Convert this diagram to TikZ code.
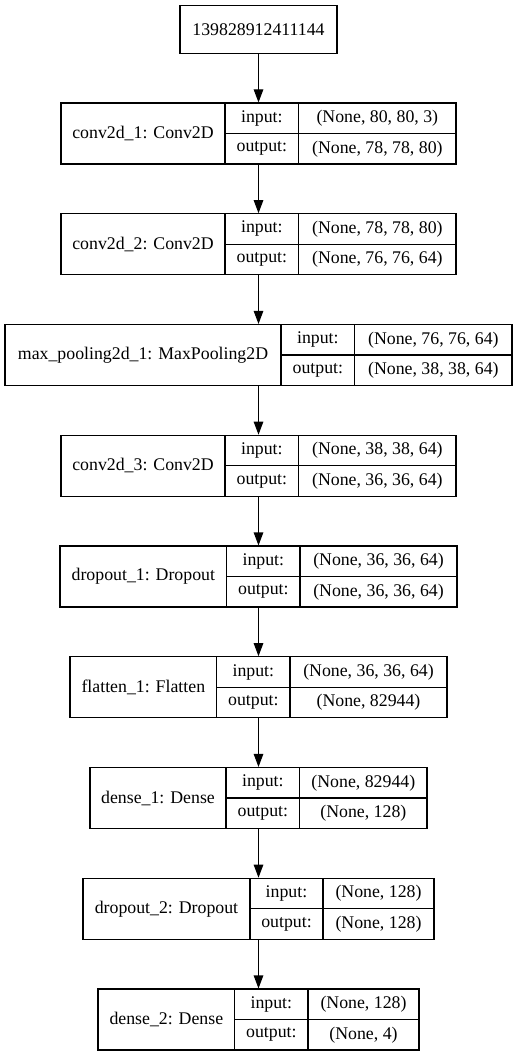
\documentclass[tikz,border=0pt]{standalone}
\usepackage{fontspec}
\setmainfont{Liberation Serif}
\usetikzlibrary{arrows.meta, positioning, calc}

% one layer row: id, y, x0, x1, x2, x3, label, input shape, output shape
\newcommand\netlayer[9]{%
	\node[layer, minimum width={#6-#3}] (#1) at (258.5,#2) {};
	\draw[cell] (#4,#2-30.5) -- (#4,#2+30.5);
	\draw[cell] (#5,#2-30.5) -- (#5,#2+30.5);
	\draw[cell] (#4,#2) -- (#6,#2);
	\node[txt] (#1-name) at ({(#3+#4)/2},#2) {#7};
	\node[txt] (#1-inl) at ({(#4+#5)/2},#2-15.25) {input:};
	\node[txt] (#1-outl) at ({(#4+#5)/2},#2+15.25) {output:};
	\node[txt] (#1-in) at ({(#5+#6)/2},#2-15.25) {#8};
	\node[txt] (#1-out) at ({(#5+#6)/2},#2+15.25) {#9};
}

\begin{document}
\begin{tikzpicture}
	[
	x = 1pt, y = -1pt,
	layer/.style = {draw, line width = 1.1pt, inner sep = 0pt, minimum height = 61pt},
	cell/.style = {line width = 1.1pt},
	txt/.style = {inner sep = 0pt, font = \fontsize{17.8}{21}\selectfont},
	tip/.style = {
		->,
		line width = 1.1pt,
		>={Triangle[width=9.5pt,length=13pt]}
	}
	]
	\useasboundingbox (0,0) rectangle (517,1056);
	
	\node[draw, line width = 1.1pt, minimum width = 157pt, minimum height = 48pt, inner sep = 0pt, font = \fontsize{17.8}{21}\selectfont] (input) at (258.5,29.5) {139828912411144};
	
	\netlayer{conv1}{133.5}{61}{225}{298.7}{456}{conv2d\_1: Conv2D}{(None, 80, 80, 3)}{(None, 78, 78, 80)}
	\netlayer{conv2}{244.25}{61}{225}{298.7}{456}{conv2d\_2: Conv2D}{(None, 78, 78, 80)}{(None, 76, 76, 64)}
	\netlayer{pool1}{355}{5}{281}{354.7}{512}{max\_pooling2d\_1: MaxPooling2D}{(None, 76, 76, 64)}{(None, 38, 38, 64)}
	\netlayer{conv3}{465.75}{61}{225}{298.7}{456}{conv2d\_3: Conv2D}{(None, 38, 38, 64)}{(None, 36, 36, 64)}
	\netlayer{drop1}{576.5}{60}{226.7}{300}{457}{dropout\_1: Dropout}{(None, 36, 36, 64)}{(None, 36, 36, 64)}
	\netlayer{flat1}{687.25}{70}{216.7}{290}{447}{flatten\_1: Flatten}{(None, 36, 36, 64)}{(None, 82944)}
	\netlayer{dense1}{798}{90}{226}{299.7}{427}{dense\_1: Dense}{(None, 82944)}{(None, 128)}
	\netlayer{drop2}{908.75}{83}{250}{323}{434}{dropout\_2: Dropout}{(None, 128)}{(None, 128)}
	\netlayer{dense2}{1019.5}{98}{234.7}{308}{419}{dense\_2: Dense}{(None, 128)}{(None, 4)}
	
	\draw[tip] (input) -- (conv1);
	\draw[tip] (conv1) -- (conv2);
	\draw[tip] (conv2) -- (pool1);
	\draw[tip] (pool1) -- (conv3);
	\draw[tip] (conv3) -- (drop1);
	\draw[tip] (drop1) -- (flat1);
	\draw[tip] (flat1) -- (dense1);
	\draw[tip] (dense1) -- (drop2);
	\draw[tip] (drop2) -- (dense2);
\end{tikzpicture}
\end{document}
